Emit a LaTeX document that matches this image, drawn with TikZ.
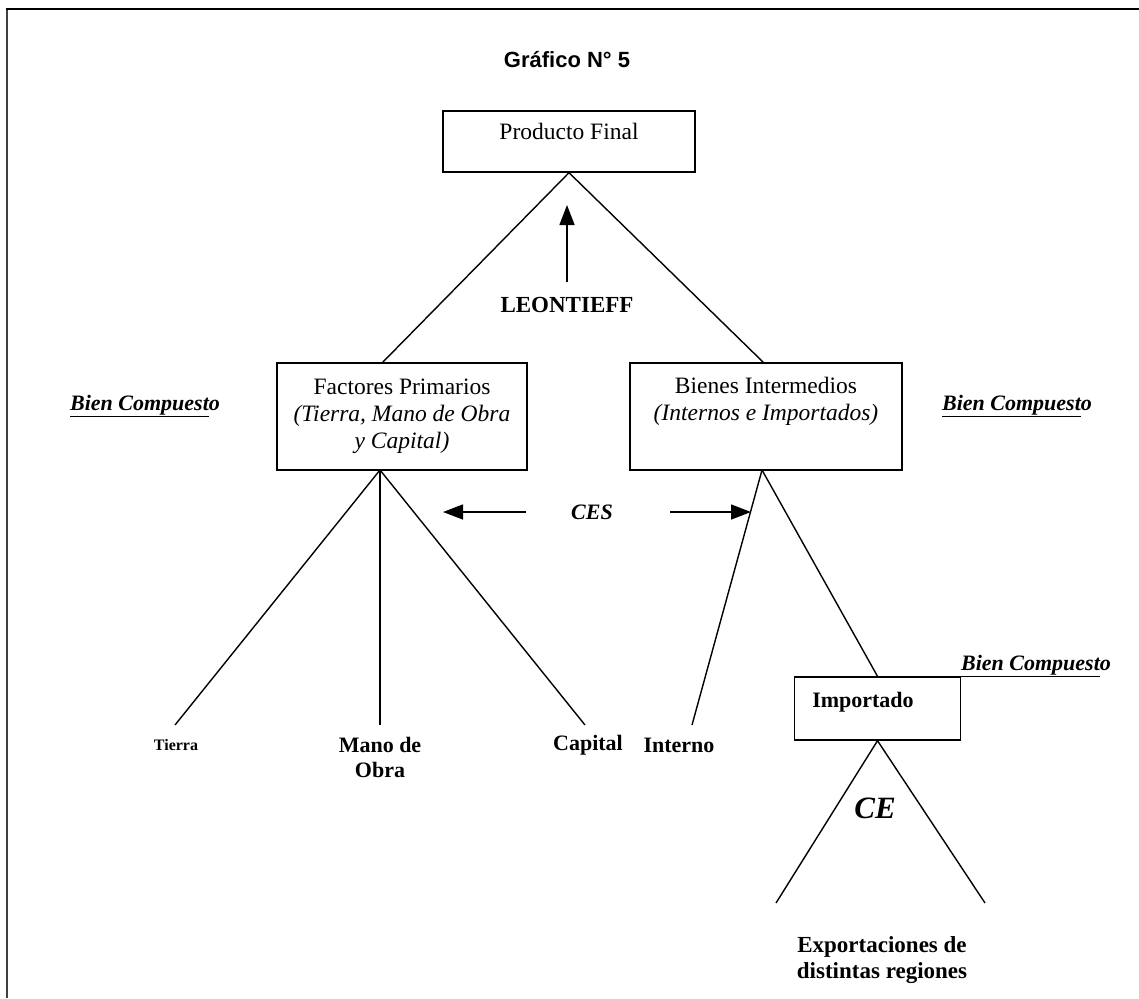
\documentclass[tikz,border=0pt]{standalone}
\usepackage{fontspec}
\setmainfont{Liberation Serif}
\newfontfamily\arialf{Liberation Sans}
\usetikzlibrary{arrows.meta}
\begin{document}
\begin{tikzpicture}[x=1pt,y=-1pt,
  box/.style={draw,line width=1.4pt,inner sep=0pt,align=center},
  lbl/.style={inner sep=0pt,align=center},
  conn/.style={line width=1.4pt},
  arr/.style={line width=1.4pt,-{Triangle[length=20pt,width=15pt]}},
  txt/.style={font=\fontsize{23.5}{27}\selectfont},
  btxt/.style={font=\bfseries\fontsize{22}{25}\selectfont},
  bc/.style={font=\bfseries\itshape\fontsize{22}{26}\selectfont},
]
\useasboundingbox (0,0) rectangle (1139,998);
\draw[line width=1.6pt,black!75] (7,998) -- (7,9);
\draw[line width=2.4pt] (6,9) -- (1139,9);

\node[lbl,font=\arialf\bfseries\fontsize{22}{26}\selectfont] (title) at (567,60) {Gráfico N° 5};

\node[box,txt,minimum width=252pt,minimum height=61pt] (pf) at (569,141.5) {Producto Final\\[-6pt]};

\node[box,txt,minimum width=250pt,minimum height=107pt] (fp) at (402,416.5)
  {Factores Primarios\\\textit{(Tierra, Mano de Obra}\\\textit{y Capital)}};
\node[box,txt,minimum width=272pt,minimum height=107pt] (bi) at (766,416.5)
  {Bienes Intermedios\\\textit{(Internos e Importados)}\\\strut};

\coordinate (fpTop) at (382,363);
\coordinate (biTop) at (764,363);
\draw[conn] (fpTop) -- (pf.south) -- (biTop);

\node[lbl,font=\bfseries\fontsize{23}{27}\selectfont,anchor=base] (leo) at (567,312) {LEONTIEFF};
\coordinate (leoTail) at (567,282);
\coordinate (leoTip) at (567,205);
\draw[arr] (leoTail) -- (leoTip);

\node[lbl,bc,anchor=base] (bc1) at (145,410) {\underline{Bien Compuest}o};
\node[lbl,bc,anchor=base] (bc2) at (1017,410) {\underline{Bien Compuest}o};

% Factores branches
\coordinate (fpBot) at (380,470);
\coordinate (tEnd) at (175,725);
\coordinate (mEnd) at (380,725);
\coordinate (cEnd) at (585,725);
\draw[conn] (fpBot) -- (tEnd);
\draw[conn] (fpBot) -- (mEnd);
\draw[conn] (fpBot) -- (cEnd);

\node[lbl,font=\bfseries\fontsize{16}{19}\selectfont] (tierra) at (176,745) {Tierra};
\node[lbl,btxt,anchor=north] (mano) at (380,737) {Mano de\\Obra};
\node[lbl,btxt] (capital) at (588,745) {Capital};

% CES arrows
\node[lbl,font=\bfseries\itshape\fontsize{22}{26}\selectfont] (ces) at (592,512) {CES};
\coordinate (cesL0) at (526,512);
\coordinate (cesL1) at (443,512);
\coordinate (cesR0) at (670,512);
\coordinate (cesR1) at (751,512);
\draw[arr] (cesL0) -- (cesL1);
\draw[arr] (cesR0) -- (cesR1);

% Bienes branches
\coordinate (biBot) at (762,470);
\coordinate (iEnd) at (692,725);
\node[box,minimum width=166pt,minimum height=63pt] (imp) at (877.5,708.5) {};
\node[lbl,btxt] (impt) at (863,702) {Importado};
\draw[conn] (biBot) -- (iEnd);
\draw[conn] (biBot) -- (imp.north);
\node[lbl,btxt] (interno) at (679,745) {Interno};
\node[lbl,bc,anchor=base] (bc3) at (1036,670) {\underline{Bien Compuest}o};

% Importado branches
\coordinate (eL) at (776,903);
\coordinate (eR) at (985,903);
\draw[conn] (eL) -- (imp.south) -- (eR);
\node[lbl,font=\bfseries\itshape\fontsize{31}{35}\selectfont] (ce) at (875,808) {CE};
\node[lbl,font=\bfseries\fontsize{23}{26}\selectfont] (exp) at (882,960) {Exportaciones de\\distintas regiones};
\end{tikzpicture}
\end{document}
